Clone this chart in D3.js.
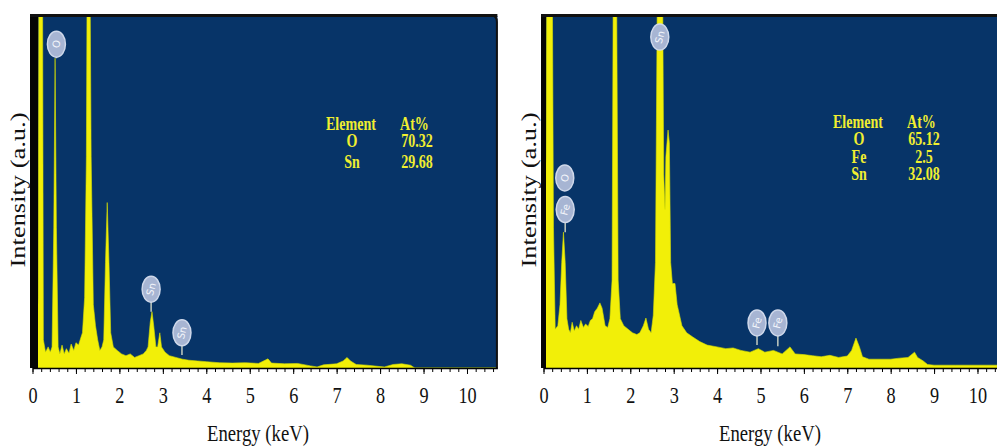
<!DOCTYPE html>
<html>
<head>
<meta charset="utf-8">
<script src="https://cdn.jsdelivr.net/npm/d3@7"></script>
<style>
  body { margin: 0; background: #fff; }
  text { font-family: "Liberation Serif", "Times New Roman", serif; }
</style>
</head>
<body>
<script>
// spectrum of the left sample (energy in keV, intensity in a.u. 0-100)
var leftEnergy = [0.10,0.13,0.15,0.23,0.25,0.30,0.36,0.41,0.45,0.49,0.52,0.55,0.59,0.63,0.68,0.73,0.78,0.84,0.89,0.95,1.00,1.06,1.11,1.15,1.20,1.24,1.26,1.32,1.35,1.40,1.45,1.50,1.55,1.60,1.64,1.68,1.72,1.76,1.80,1.86,1.95,2.05,2.15,2.25,2.35,2.45,2.55,2.62,2.66,2.71,2.75,2.79,2.84,2.88,2.93,2.97,3.05,3.15,3.30,3.45,3.60,3.80,4.00,4.30,4.60,4.90,5.20,5.42,5.50,5.80,6.10,6.40,6.55,6.70,7.00,7.15,7.24,7.32,7.45,7.70,8.00,8.10,8.30,8.50,8.70,8.80,10.70];
var leftCounts = [0,20,120,120,8,4.5,6,4.5,6,40,88,40,6,4,6.5,4,5.5,4.2,6.8,5,7.2,6.5,8.5,10,20,60,120,120,60,18,12,8,5,6,8,30,47,30,10,6,5,4,3.5,4,3,3.5,4,5,6,13,16,12,6,6,10,6,4.5,3.5,3,2.5,2.2,2,1.8,1.5,1.4,1.5,1.3,2.6,1.4,1.2,1.3,0.6,0.3,0.9,1.2,2,3,2,1,0.8,0.4,0.3,1,1.2,0.8,0,0];

// spectrum of the right sample
var rightEnergy = [0.00,0.06,0.08,0.20,0.23,0.27,0.33,0.38,0.42,0.46,0.50,0.54,0.58,0.62,0.66,0.71,0.76,0.81,0.86,0.92,0.97,1.03,1.08,1.13,1.18,1.24,1.30,1.35,1.42,1.48,1.53,1.58,1.61,1.68,1.72,1.77,1.85,1.95,2.05,2.15,2.22,2.30,2.36,2.42,2.48,2.53,2.58,2.63,2.74,2.77,2.80,2.82,2.87,2.90,2.93,2.97,3.03,3.08,3.19,3.30,3.44,3.60,3.77,4.00,4.20,4.37,4.55,4.76,4.95,5.10,5.30,5.50,5.68,5.80,6.00,6.20,6.40,6.60,6.80,7.00,7.10,7.20,7.28,7.35,7.50,7.80,8.00,8.20,8.40,8.55,8.62,8.75,8.85,9.00,9.50,10.45];
var rightCounts = [10,60,120,120,40,11,12,18,30,38.6,30,14,11,10,13,10.5,12,11,13.5,11.5,12.5,11.8,13.5,14,16,17,18.5,17,12,11.5,14,25,120,120,25,14,12,11,10,9.5,10,12,14.2,11,10,15,30,120,120,55,45,60,67.6,64,30,24,24,18,12,10,8.8,7.5,6.5,6,5.5,5.7,5,4.5,5.5,4.5,5,4,6,4,3.8,3.5,3.2,3.6,3,3.4,5,8.5,6,3.2,2.5,2.5,2.5,2.8,3,4.5,3,2,1,0.8,0.8,0.8];

// peak markers
var leftMarkNames = ["O", "Sn", "Sn"];
var leftMarkEnergy = [0.55, 2.73, 3.44];
var leftMarkLevel = [92, 22.4, 10];
var leftMarkStem = [88, 16, 3.7];

var rightMarkNames = ["O", "Fe", "Sn", "Fe", "Fe"];
var rightMarkEnergy = [0.49, 0.50, 2.68, 4.92, 5.40];
var rightMarkLevel = [54, 45, 94, 12.8, 12.8];
var rightMarkStem = [54, 38.6, 94, 6.5, 6.2];

// composition tables
var leftTableElements = ["O", "Sn"];
var leftTableValues = ["70.32", "29.68"];
var rightTableElements = ["O", "Fe", "Sn"];
var rightTableValues = ["65.12", "2.5", "32.08"];

var majorTicks = [0,1,2,3,4,5,6,7,8,9,10];

var width = 997, height = 446;
var navy = "#073468", yellow = "#f2ef08";

var svg = d3.select("body").append("svg")
    .attr("width", width)
    .attr("height", height);

var y = d3.scaleLinear().domain([0, 100]).range([368, 16]);

function drawPanel(id, x, energy, counts, mk, table, opts){
    var x1 = x.range()[1];
    var g = svg.append("g");

    g.append("clipPath").attr("id", id)
      .append("rect")
        .attr("x", opts.left).attr("y", y(100))
        .attr("width", x1 - opts.left).attr("height", y(0) - y(100));

    //background
    g.append("rect")
        .attr("x", opts.left).attr("y", y(100))
        .attr("width", x1 - opts.left).attr("height", y(0) - y(100))
        .attr("fill", navy);

    var area = d3.area()
        .x(function(d, i){ return x(energy[i]); })
        .y0(y(0))
        .y1(function(d){ return y(d); });

    g.append("path")
        .datum(counts)
        .attr("clip-path", "url(#" + id + ")")
        .attr("fill", yellow)
        .attr("stroke", "#d8e000")
        .attr("stroke-width", 0.6)
        .attr("d", area);

    //frame: thick left bar + top line
    g.append("rect")
        .attr("x", opts.left).attr("y", y(100) - 1)
        .attr("width", opts.barW).attr("height", y(0) - y(100) + 1)
        .attr("fill", "#050505");
    g.append("line")
        .attr("x1", opts.left).attr("x2", x1)
        .attr("y1", y(100) - 0.5).attr("y2", y(100) - 0.5)
        .attr("stroke", "#111").attr("stroke-width", 3);
    if (opts.rightBorder) {
        g.append("path")
            .attr("d", "M" + (x1 - 6) + "," + (y(100) - 0.5) + " Q" + (x1 - 0.5) + "," + (y(100) - 0.5) + " " + (x1 - 0.5) + "," + (y(100) + 6) + " L" + (x1 - 0.5) + "," + y(0))
            .attr("fill", "none").attr("stroke", "#111").attr("stroke-width", 2);
    }

    //peak markers
    var marks = g.selectAll(".mark")
        .data(mk.names)
        .enter().append("g")
        .attr("class", "mark")
        .attr("transform", function(d, i){ return "translate(" + x(mk.energy[i]) + "," + y(mk.level[i]) + ")"; });
    marks.append("line")
        .attr("x1", 0).attr("x2", 0)
        .attr("y1", 12)
        .attr("y2", function(d, i){ return y(mk.stem[i]) - y(mk.level[i]); })
        .attr("stroke", "#c4ccc0").attr("stroke-width", 1.5);
    marks.append("ellipse")
        .attr("rx", 9).attr("ry", 13)
        .attr("fill", "#a7b5d3")
        .attr("stroke", "#cfd8ea").attr("stroke-width", 1.5);
    marks.append("text")
        .attr("transform", "rotate(-75)")
        .attr("text-anchor", "middle")
        .attr("dy", "0.35em")
        .style("font-family", "'DejaVu Sans', sans-serif")
        .style("font-size", "10px")
        .attr("fill", "#f4f6fb")
        .text(function(d){ return d; });

    //x axis
    var minor = d3.range(0, Math.floor(x.domain()[1] * 5) + 1).map(function(i){ return i / 5; });
    g.append("g")
        .attr("transform", "translate(0," + y(0) + ")")
        .call(d3.axisBottom(x).tickValues(minor).tickSize(4).tickSizeOuter(0).tickFormat(""))
        .call(function(a){ a.select(".domain").attr("stroke-width", 1.5); });
    var ax = g.append("g")
        .attr("transform", "translate(0," + y(0) + ")")
        .call(d3.axisBottom(x).tickValues(majorTicks).tickSize(6).tickSizeOuter(0).tickPadding(12));
    ax.select(".domain").remove();
    ax.selectAll("text")
        .attr("fill", "#111")
        .attr("transform", "scale(0.76,1)")
        .style("font-family", "'Liberation Serif', serif")
        .style("font-size", "24px");

    //axis titles
    g.append("text")
        .attr("x", opts.xTitle).attr("y", 441)
        .attr("text-anchor", "middle")
        .attr("textLength", 102).attr("lengthAdjust", "spacingAndGlyphs")
        .style("font-size", "23px").attr("fill", "#111")
        .text("Energy (keV)");
    g.append("text")
        .attr("transform", "translate(" + opts.yTitle + ",190) rotate(-90)")
        .attr("text-anchor", "middle")
        .attr("textLength", 155).attr("lengthAdjust", "spacingAndGlyphs")
        .style("font-size", "20px").attr("fill", "#111")
        .text("Intensity (a.u.)");

    //composition table
    var tb = g.append("g").attr("fill", "#f0ee30")
        .style("font-weight", "bold").style("font-size", "18px");
    function cell(tx, ty, anchor, s){
        tb.append("text")
            .attr("transform", "translate(" + tx + "," + ty + ") scale(0.78,1)")
            .attr("text-anchor", anchor)
            .text(s);
    }
    cell(opts.tx, opts.ty, "start", "Element");
    cell(opts.tx + 74, opts.ty, "start", "At%");
    table.elements.forEach(function(el, i){
        var ty = opts.ty + opts.rows[i];
        cell(opts.tx + 26, ty, "middle", el);
        cell(opts.tx + 91, ty, "middle", table.values[i]);
    });
}

var xLeft = d3.scaleLinear().domain([0, 10.7]).range([32.5, 497.4]);
var xRight = d3.scaleLinear().domain([0, 10.45]).range([543.5, 997]);

drawPanel("clipL", xLeft, leftEnergy, leftCounts,
    {names: leftMarkNames, energy: leftMarkEnergy, level: leftMarkLevel, stem: leftMarkStem},
    {elements: leftTableElements, values: leftTableValues},
    {left: 30, barW: 8, rightBorder: true, xTitle: 258, yTitle: 25, tx: 326, ty: 130, rows: [17, 38]});

drawPanel("clipR", xRight, rightEnergy, rightCounts,
    {names: rightMarkNames, energy: rightMarkEnergy, level: rightMarkLevel, stem: rightMarkStem},
    {elements: rightTableElements, values: rightTableValues},
    {left: 541, barW: 5, rightBorder: false, xTitle: 770, yTitle: 536, tx: 833, ty: 128, rows: [17, 35, 52]});
</script>
</body>
</html>
